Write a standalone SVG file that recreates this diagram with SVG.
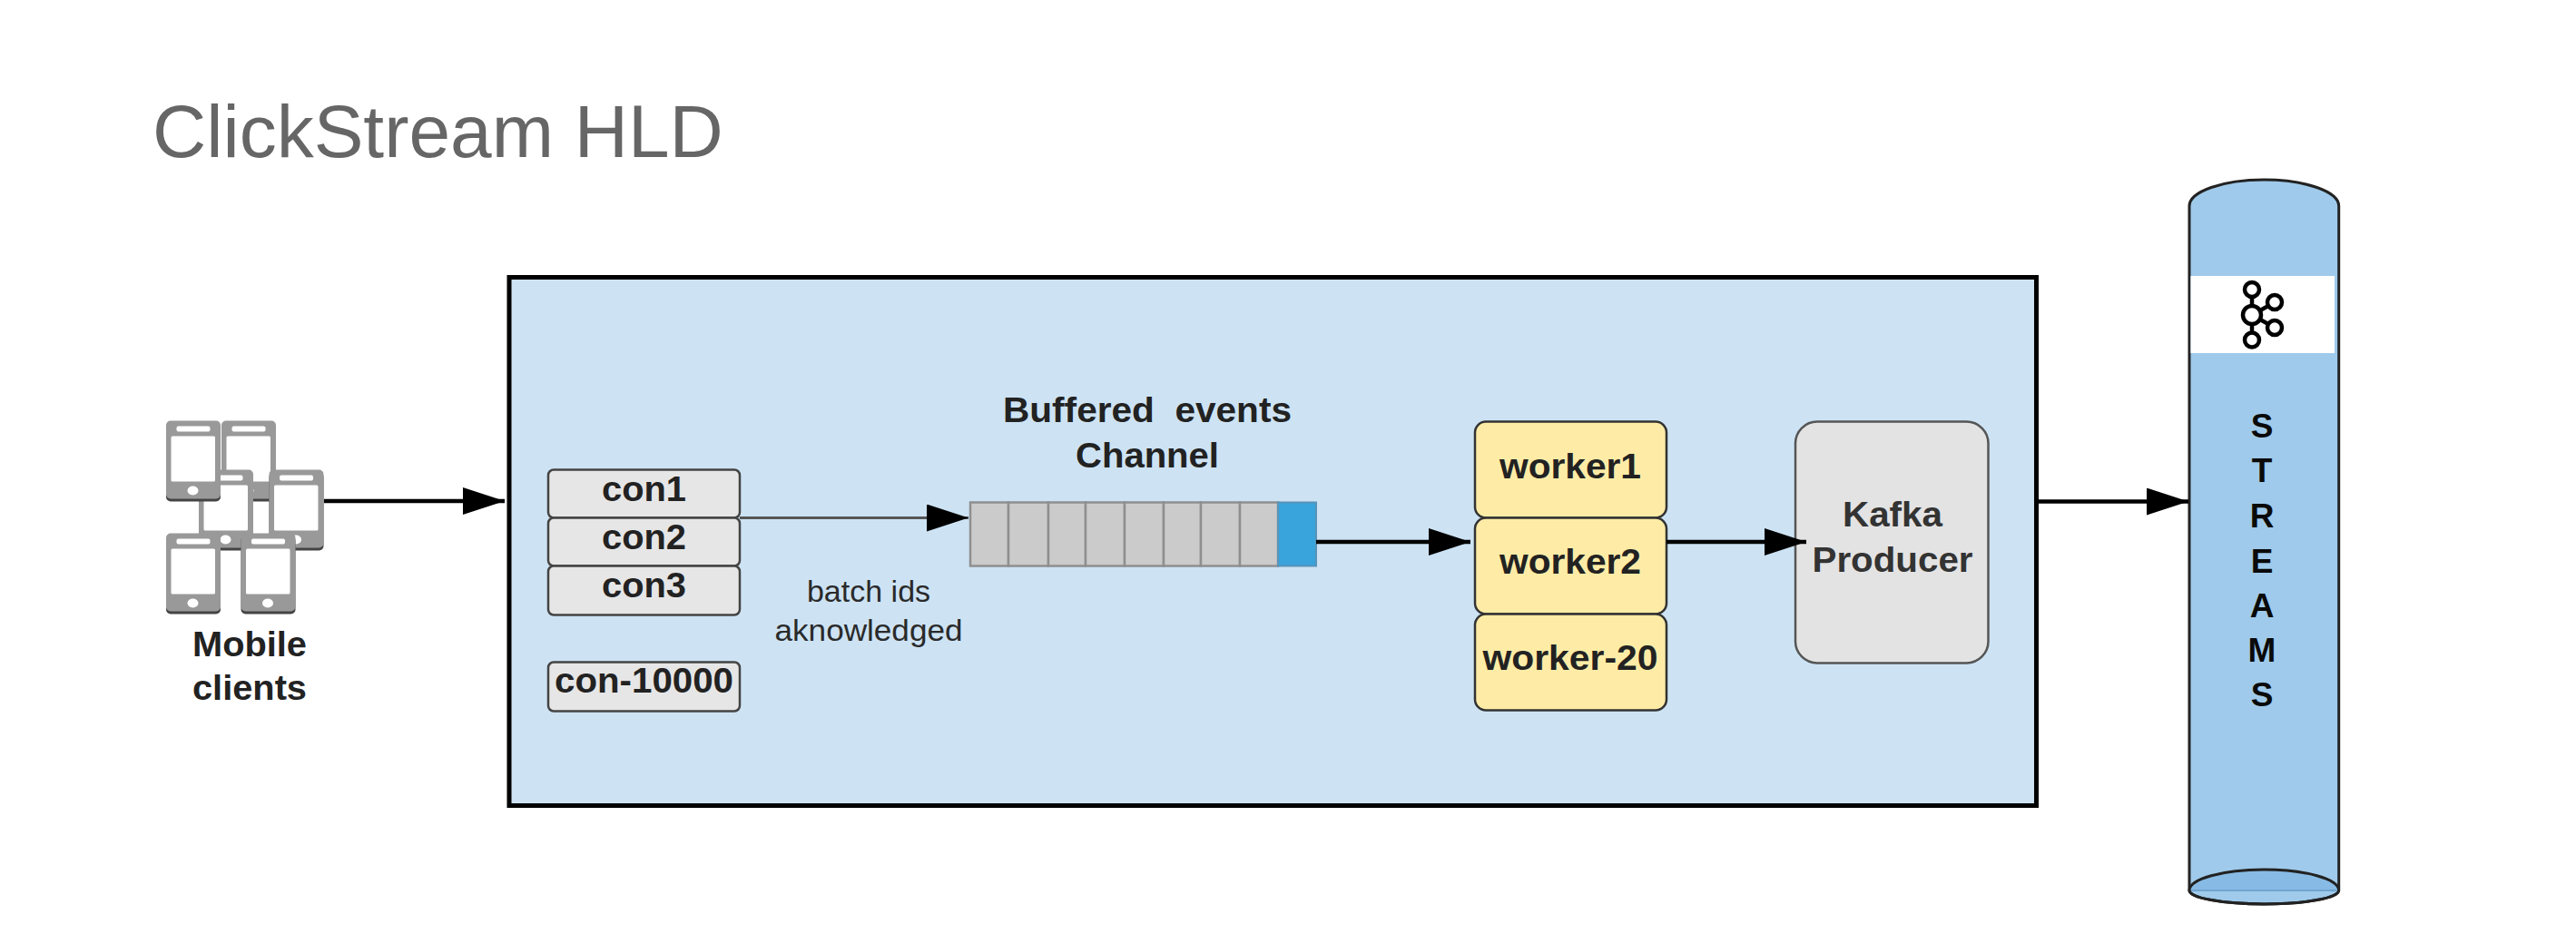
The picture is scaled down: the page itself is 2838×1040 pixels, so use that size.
<svg xmlns="http://www.w3.org/2000/svg" width="2838" height="1040" viewBox="0 0 2838 1040">
<style>
text{font-family:"Liberation Sans",Arial,sans-serif}
.b{font-size:39px;font-weight:700;fill:#222;text-anchor:middle}
.r{font-size:34px;fill:#2a2a2a;text-anchor:middle}
.con{fill:#e6e6e6;stroke:#444;stroke-width:2.5}
.wk{fill:#feeca6;stroke:#333;stroke-width:2.5}
.cell{fill:#cbcbcb;stroke:#8f8f8f;stroke-width:2.5}
.lg{fill:none;stroke:#000;stroke-width:4.5}
.thick{fill:none;stroke:#000;stroke-width:4.5}
</style>
<defs>
<marker id="ah" markerUnits="userSpaceOnUse" markerWidth="46" markerHeight="30" viewBox="0 0 46 30" refX="46" refY="15" orient="auto"><path d="M0 0L46 15L0 30Z" fill="#000"/></marker>
<g id="phone">
<rect x="0" y="3" width="60" height="86" rx="5" fill="#444"/>
<rect x="0" y="0" width="60" height="86" rx="5" fill="#999"/>
<rect x="11.5" y="6" width="37" height="6" rx="2" fill="#fff"/>
<rect x="5.5" y="17" width="48.5" height="50" rx="1.5" fill="#fff"/>
<ellipse cx="29.5" cy="77" rx="6" ry="5" fill="#fff"/>
</g>
</defs>
<rect width="2838" height="1040" fill="#fff"/>
<text id="title" x="168" y="173" font-size="82" fill="#666">ClickStream HLD</text>
<g id="mobile-clients">
<use href="#phone" x="244" y="463.500"/>
<use href="#phone" x="219" y="517.500"/>
<use href="#phone" x="296.500" y="517.500"/>
<use href="#phone" x="183" y="463.500"/>
<use href="#phone" x="183" y="587.500"/>
<use href="#phone" x="265.500" y="587.500"/>
<text class="b" x="275" y="722.500" textLength="126" lengthAdjust="spacingAndGlyphs">Mobile</text>
<text class="b" x="275" y="771" textLength="126" lengthAdjust="spacingAndGlyphs">clients</text>
</g>
<g id="server">
<rect x="561" y="305.500" width="1682.500" height="582" fill="#cde3f4" stroke="#000" stroke-width="5"/>
</g>
<g id="con1" transform="translate(0,1.5)"><rect class="con" x="604" y="516" width="211" height="53" rx="6"/><text class="b" x="709.500" y="550" textLength="93" lengthAdjust="spacingAndGlyphs">con1</text></g>
<g id="con2" transform="translate(0,1.5)"><rect class="con" x="604" y="569" width="211" height="53" rx="6"/><text class="b" x="709.500" y="603" textLength="93" lengthAdjust="spacingAndGlyphs">con2</text></g>
<g id="con3" transform="translate(0,1.5)"><rect class="con" x="604" y="622" width="211" height="54" rx="6"/><text class="b" x="709.500" y="656.500" textLength="93" lengthAdjust="spacingAndGlyphs">con3</text></g>
<g id="con-10000" transform="translate(0,1.5)"><rect class="con" x="604" y="728" width="211" height="54" rx="6"/><text class="b" x="709.500" y="761.500" textLength="197" lengthAdjust="spacingAndGlyphs">con-10000</text></g>
<g id="batch-label">
<text class="r" x="957" y="663">batch ids</text>
<text class="r" x="957" y="705.500" textLength="207" lengthAdjust="spacingAndGlyphs">aknowledged</text>
</g>
<g id="channel" transform="translate(0,1.5)">
<text class="b" x="1264" y="463" textLength="318" lengthAdjust="spacingAndGlyphs" xml:space="preserve">Buffered  events</text>
<text class="b" x="1264" y="513" textLength="158" lengthAdjust="spacingAndGlyphs">Channel</text>
<rect class="cell" x="1069" y="552" width="42" height="70"/>
<rect class="cell" x="1111" y="552" width="44" height="70"/>
<rect class="cell" x="1155" y="552" width="41" height="70"/>
<rect class="cell" x="1196" y="552" width="43" height="70"/>
<rect class="cell" x="1239" y="552" width="43" height="70"/>
<rect class="cell" x="1282" y="552" width="41" height="70"/>
<rect class="cell" x="1323" y="552" width="43" height="70"/>
<rect class="cell" x="1366" y="552" width="42" height="70"/>
<rect x="1408" y="552" width="42" height="70" fill="#39a3dc" stroke="#5a92b8" stroke-width="2"/>
</g>
<g id="worker1" transform="translate(0,1.5)"><rect class="wk" x="1625" y="463" width="211" height="106" rx="12"/><text class="b" x="1730" y="525" textLength="156" lengthAdjust="spacingAndGlyphs">worker1</text></g>
<g id="worker2" transform="translate(0,1.5)"><rect class="wk" x="1625" y="569" width="211" height="106" rx="12"/><text class="b" x="1730" y="630.500" textLength="156" lengthAdjust="spacingAndGlyphs">worker2</text></g>
<g id="worker-20" transform="translate(0,1.5)"><rect class="wk" x="1625" y="675" width="211" height="106" rx="12"/><text class="b" x="1730" y="736" textLength="193" lengthAdjust="spacingAndGlyphs">worker-20</text></g>
<g id="kafka-producer" transform="translate(0,1.5)"><rect x="1978" y="463" width="212.500" height="266" rx="24" fill="#e3e3e3" stroke="#555" stroke-width="2.500"/>
<text class="b" x="2085" y="578" textLength="110" lengthAdjust="spacingAndGlyphs" style="fill:#333">Kafka</text>
<text class="b" x="2085" y="628" textLength="177" lengthAdjust="spacingAndGlyphs" style="fill:#333">Producer</text></g>
<g id="streams">
<path d="M2412 227A82.350 29 0 0 1 2576.700 227L2576.700 981A82.350 15 0 0 1 2412 981Z" fill="#9fcaeb" stroke="#222" stroke-width="3"/>
<path d="M2412 981A82.350 23 0 0 1 2576.700 981Z" fill="#87bbe5" stroke="none"/>
<path d="M2412 981A82.350 23 0 0 1 2576.700 981A82.350 15 0 0 1 2412 981Z" fill="none" stroke="#222" stroke-width="3"/>
<line x1="2414" y1="981" x2="2575" y2="981" stroke="#6fa5d0" stroke-width="2"/>
<rect x="2413.500" y="304" width="158.500" height="85" fill="#fff"/>
<circle class="lg" cx="2481" cy="347" r="10"/>
<circle class="lg" cx="2481" cy="319" r="8"/>
<circle class="lg" cx="2481" cy="374.500" r="8"/>
<circle class="lg" cx="2506" cy="333" r="8"/>
<circle class="lg" cx="2506" cy="361" r="8"/>
<path class="lg" d="M2481 327V337M2481 357V366.500M2490 342L2499 337M2490 352L2499 357"/>
<g class="b" style="font-size:37px;fill:#0a0a0a">
<text x="2492" y="481.500">S</text><text x="2492" y="531">T</text><text x="2492" y="581">R</text><text x="2492" y="630.500">E</text><text x="2492" y="680">A</text><text x="2492" y="729">M</text><text x="2492" y="778">S</text>
</g>
</g>
<g id="connectors">
<line class="thick" x1="357" y1="552" x2="556" y2="552" marker-end="url(#ah)"/>
<line x1="815" y1="570.500" x2="1067" y2="570.500" stroke="#555" stroke-width="3" marker-end="url(#ah)"/>
<line class="thick" x1="1450" y1="597" x2="1620" y2="597" marker-end="url(#ah)"/>
<line class="thick" x1="1836" y1="597" x2="1990" y2="597" marker-end="url(#ah)"/>
<line class="thick" x1="2243" y1="552.500" x2="2411" y2="552.500" marker-end="url(#ah)"/>
</g>
</svg>
